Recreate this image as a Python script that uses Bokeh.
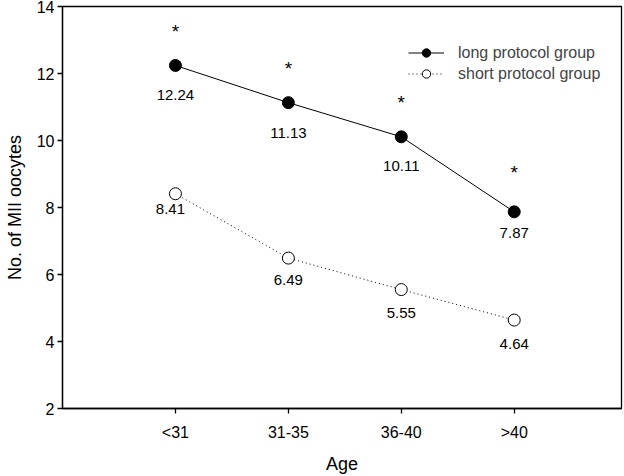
from bokeh.plotting import figure
from bokeh.models import FixedTicker, ColumnDataSource, Legend, LegendItem
from bokeh.core.properties import value
from bokeh.embed import file_html
from bokeh.resources import INLINE

categories = ["<31", "31-35", "36-40", ">40"]
long_protocol = [12.24, 11.13, 10.11, 7.87]
short_protocol = [8.41, 6.49, 5.55, 4.64]
y_ticks = [2, 4, 6, 8, 10, 12, 14]

# label placement (screen px), style only
long_label_dy = [30, 30, 29, 21]
long_star_dy = [-34, -34, -34, -39]
short_label_dx = [-5, 0, 0, 0]
short_label_dy = [15, 22, 23, 24]

xs = list(range(1, len(categories) + 1))
FONT = "Liberation Sans"

p = figure(width=624, height=476, x_range=(0, 4.95), y_range=(2, 14),
           output_backend="svg", toolbar_location=None,
           min_border_left=62, min_border_right=3, min_border_top=6, min_border_bottom=60)
p.grid.visible = False
p.outline_line_color = "black"
p.outline_line_width = 1.3

for ax in (p.xaxis[0], p.yaxis[0]):
    ax.axis_line_width = 1.3
    ax.major_tick_line_width = 1.3
    ax.minor_tick_line_color = None
    ax.major_tick_in = 0
    ax.major_tick_out = 5
    ax.major_label_text_font = FONT
    ax.major_label_text_font_size = "16px"
    ax.major_label_text_color = "black"
    ax.axis_label_text_font = FONT
    ax.axis_label_text_font_size = "18px"
    ax.axis_label_text_font_style = "normal"
    ax.axis_label_text_color = "black"

p.xaxis.ticker = FixedTicker(ticks=xs)
p.xaxis.major_label_overrides = {x: c for x, c in zip(xs, categories)}
p.xaxis.axis_label = "Age"
p.xaxis.major_label_standoff = 10
p.xaxis.axis_label_standoff = 10
p.yaxis.ticker = FixedTicker(ticks=y_ticks)
p.yaxis.axis_label = "No. of MII oocytes"
p.yaxis.major_label_standoff = 3
p.yaxis.axis_label_standoff = 9

src_l = ColumnDataSource(dict(x=xs, y=long_protocol, t=[f"{v:.2f}" for v in long_protocol],
                              s=["*"] * 4, dy=long_label_dy, sdy=long_star_dy))
src_s = ColumnDataSource(dict(x=xs, y=short_protocol, t=[f"{v:.2f}" for v in short_protocol],
                              dx=short_label_dx, dy=short_label_dy))

l1 = p.line("x", "y", source=src_l, line_color="black", line_width=1)
c1 = p.scatter("x", "y", source=src_l, size=12, fill_color="black", line_color="black")
l2 = p.line("x", "y", source=src_s, line_color="black", line_width=1, line_dash="1 3")
c2 = p.scatter("x", "y", source=src_s, size=12, fill_color="white", line_color="black", line_width=1)

p.text("x", "y", text="t", source=src_l, text_align="center", text_baseline="middle",
       y_offset="dy", text_font=value(FONT), text_font_size="15px", text_color="black")
p.text("x", "y", text="t", source=src_s, text_align="center", text_baseline="middle",
       x_offset="dx", y_offset="dy", text_font=value(FONT), text_font_size="15px", text_color="black")
p.text("x", "y", text="s", source=src_l, text_align="center", text_baseline="middle",
       y_offset="sdy", text_font=value(FONT), text_font_size="19px", text_color="black")

legend = Legend(items=[LegendItem(label="long protocol group", renderers=[l1, c1]),
                       LegendItem(label="short protocol group", renderers=[l2, c2])],
                location=(346, 324), border_line_color=None, background_fill_alpha=0,
                glyph_width=36, glyph_height=21, label_height=21, spacing=0, padding=0,
                label_text_font=FONT, label_text_font_size="16px", label_standoff=14)
p.add_layout(legend)

open("out.html", "w").write(file_html(p, INLINE))
